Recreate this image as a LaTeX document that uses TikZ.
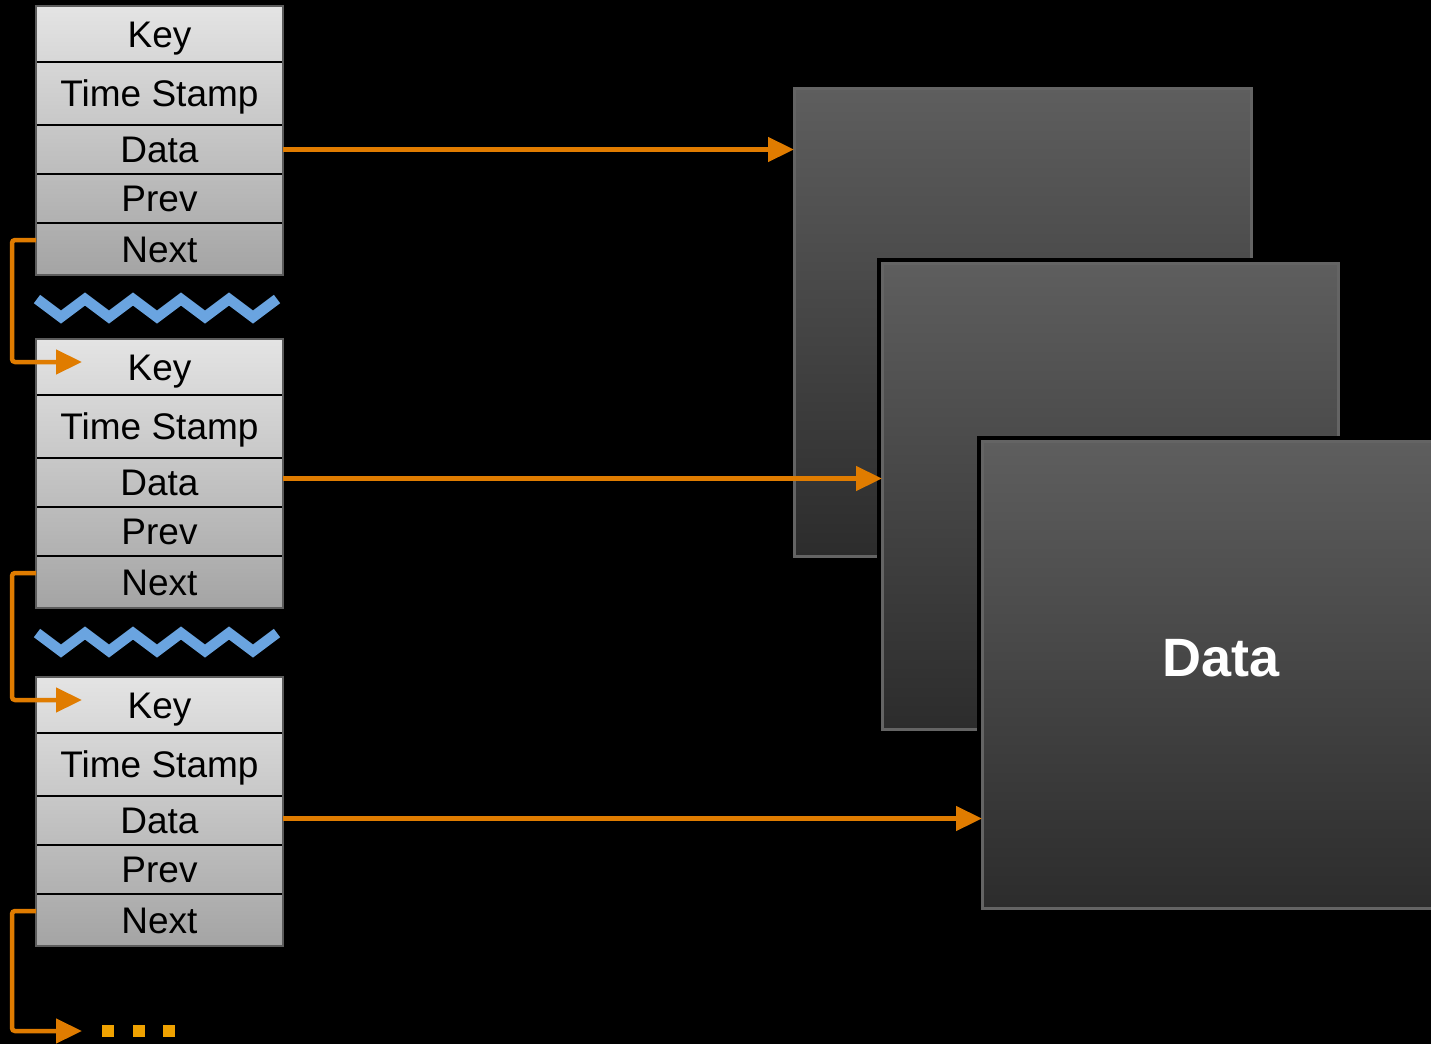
\documentclass[tikz,border=0pt]{standalone}
\usepackage{fontspec}
\setmainfont{Liberation Sans}
\usetikzlibrary{arrows.meta,calc}

\definecolor{linkorange}{RGB}{224,124,0}
\definecolor{dotorange}{RGB}{240,162,0}
\definecolor{wavecol}{RGB}{106,164,224}
\definecolor{recTop}{RGB}{228,228,228}
\definecolor{recBot}{RGB}{164,164,164}
\definecolor{recEdge}{RGB}{92,92,92}
\definecolor{boxTop}{RGB}{94,94,94}
\definecolor{boxBot}{RGB}{44,44,44}
\definecolor{boxEdge}{RGB}{100,100,100}

\tikzset{
  field/.style={anchor=north west, minimum width=247pt, inner sep=0pt, outer sep=0pt,
    font=\fontsize{37}{37}\selectfont, text=black, text height=26pt, text depth=0pt},
  divider/.style={draw=black, line width=2pt},
  recordedge/.style={draw=recEdge, line width=2pt},
  databox/.style={anchor=north west, inner sep=0pt, outer sep=0pt,
    top color=boxTop, bottom color=boxBot, draw=boxEdge, line width=3pt},
  shadowed/.style={preaction={draw=black, line width=10pt}},
  link/.style={draw=linkorange, line width=4.5pt,
    -{Triangle[length=26pt, width=24pt]}},
  nextlink/.style={link, rounded corners=3pt},
  wave/.style={draw=wavecol, line width=10.5pt, line join=miter, line cap=butt},
  dotmark/.style={fill=dotorange, minimum size=12pt, inner sep=0pt, outer sep=0pt}
}

% one record: #1 name prefix, #2 top edge
\newcommand\recordbox[2]{%
  \shade[top color=recTop, bottom color=recBot] (36,#2) rectangle (283,{#2+269});
  \node[field, minimum height=56pt] (#1key)  at (36,#2) {Key};
  \node[field, minimum height=63pt] (#1ts)   at (#1key.south west) {Time Stamp};
  \node[field, minimum height=49pt] (#1data) at (#1ts.south west) {Data};
  \node[field, minimum height=49pt] (#1prev) at (#1data.south west) {Prev};
  \node[field, minimum height=52pt] (#1next) at (#1prev.south west) {Next};
  \foreach \r in {key,ts,data,prev}
    \draw[divider] (#1\r.south west) -- (#1\r.south east);
  \draw[recordedge] (#1key.north west) rectangle (#1next.south east);
}

% zigzag separator between records: #1 peak height
\newcommand\zigzag[1]{%
  \draw[wave] (37,#1)
    \foreach \k in {1,...,5} { -- ({37+(2*\k-1)*24},{#1+18}) -- ({37+2*\k*24},#1) };
}

\begin{document}
\begin{tikzpicture}[x=1pt, y=-1pt]
  \fill[black] (0,0) rectangle (1431,1044);
  \useasboundingbox (0,0) rectangle (1431,1044);
  \clip (0,0) rectangle (1431,1044);

  % stacked data blocks
  \node[databox, minimum width=457pt, minimum height=468pt] (dA) at (794,88) {};
  \node[databox, shadowed, minimum width=456pt, minimum height=466pt] (dB) at (882,263) {};
  \node[databox, shadowed, minimum width=490pt, minimum height=467pt] (dC) at (982,441) {};
  \node[font=\bfseries\fontsize{54}{54}\selectfont, text=white, inner sep=0pt,
        text height=39pt, text depth=0pt] (dlabel) at (1221,657) {Data};

  % records
  \recordbox{ra}{6}
  \recordbox{rb}{339}
  \recordbox{rc}{677}

  \zigzag{299}
  \zigzag{633}

  % data pointers
  \draw[link] (radata.east) -- (radata.east -| dA.west);
  \draw[link] ($(rbdata.east)+(0,-4)$) -- ($(rbdata.east -| dB.west)+(0,-4)$);
  \draw[link] ($(rcdata.east)+(0,-2)$) -- ($(rcdata.east -| dC.west)+(0,-2)$);

  % next pointers
  \draw[nextlink] ($(ranext.west)+(0,-9)$) -- ++(-24,0) |- ($(rbkey.west)+(46,-5)$);
  \draw[nextlink] ($(rbnext.west)+(0,-9)$) -- ++(-24,0) |- ($(rckey.west)+(46,-5)$);
  \coordinate (tail) at (82,1031);
  \draw[nextlink] ($(rcnext.west)+(0,-9)$) -- ++(-24,0) |- (tail);

  % ellipsis
  \node[dotmark] (m1) at (108,1031) {};
  \node[dotmark] (m2) at (139,1031) {};
  \node[dotmark] (m3) at (169,1031) {};
\end{tikzpicture}
\end{document}
